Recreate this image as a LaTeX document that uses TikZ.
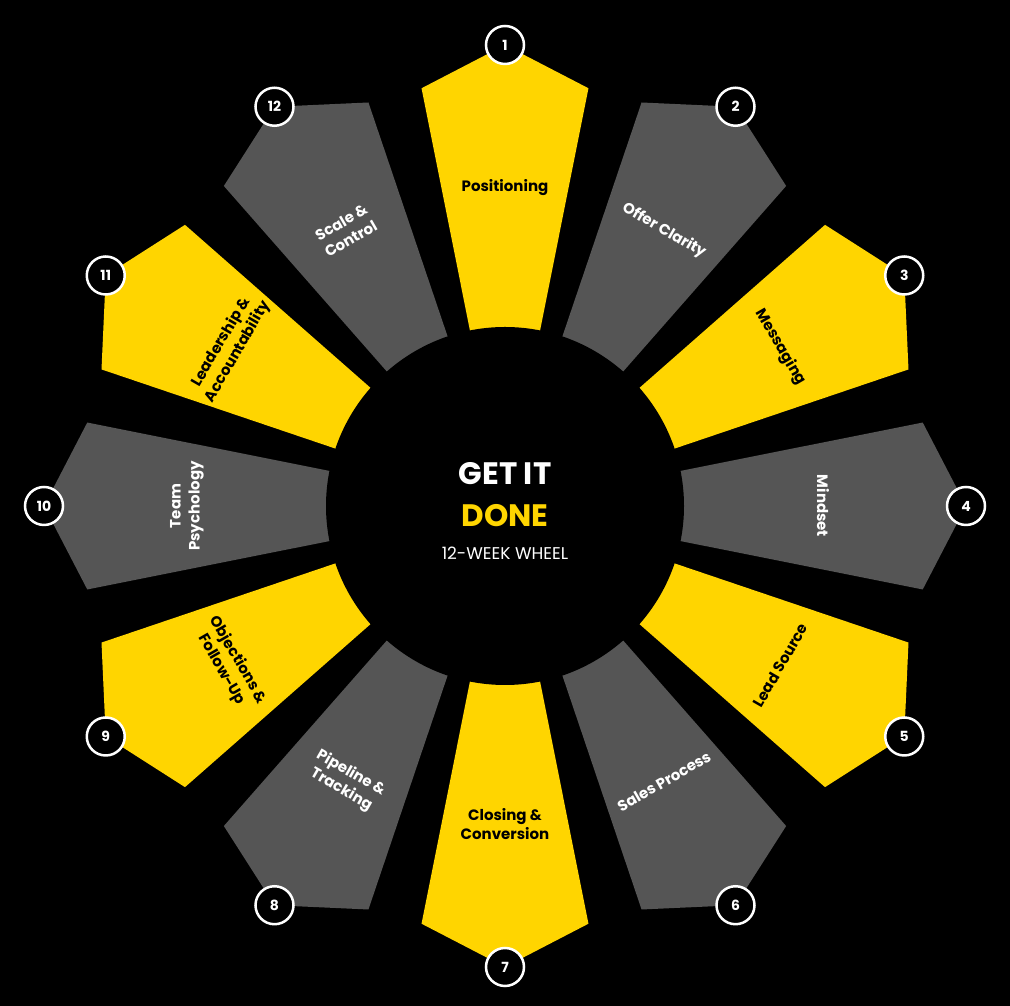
\documentclass[tikz,border=0pt]{standalone}
\usepackage{fontspec}
\setmainfont{Poppins}
\usetikzlibrary{positioning,calc}
\definecolor{wheelyellow}{HTML}{FFD500}
\definecolor{wheelgray}{HTML}{555555}
\begin{document}
\begin{tikzpicture}
  [
    x=1pt, y=1pt,
    Label/.style={text=black, font=\bfseries\fontsize{15}{19}\selectfont, align=center, inner sep=1pt},
    LabelW/.style={Label, text=white},
    Badge/.style={circle, draw=white, fill=black, line width=2.5pt, minimum size=38pt, inner sep=0pt, text=white, font=\bfseries\fontsize{14}{14}\selectfont}
  ]
  % Background
  \fill[black] (0,0) rectangle (1010,1006);
  \coordinate (c) at (505,500);
  % Segments
  \foreach \n/\col in {1/wheelyellow,2/wheelgray,3/wheelyellow,4/wheelgray,5/wheelyellow,6/wheelgray,7/wheelyellow,8/wheelgray,9/wheelyellow,10/wheelgray,11/wheelyellow,12/wheelgray}{
    \pgfmathsetmacro{\a}{90-30*(\n-1)}
    \fill[\col] (c) -- ++(\a-11.3:426) -- ($(c)+(\a:461)$) -- ($(c)+(\a+11.3:426)$) -- cycle;
  }
  % Hub
  \node[circle, fill=black, minimum size=358pt, inner sep=0pt] (hub) at (c) {};
  \node[text=white, font=\bfseries\fontsize{31}{31}\selectfont] (get) at (505,532) {GET IT};
  \node[text=wheelyellow, font=\bfseries\fontsize{31}{31}\selectfont] (done) at (505,490) {DONE};
  \node[text=white, font=\fontsize{17}{17}\selectfont] (sub) at (505,453) {12-WEEK WHEEL};
  % Labels
  \foreach \n/\rot/\sty/\txt in {1/0/Label/Positioning, 2/-30/LabelW/Offer Clarity, 3/-60/Label/Messaging, 4/-90/LabelW/Mindset, 5/60/Label/Lead Source, 6/30/LabelW/Sales Process, 7/0/Label/{Closing \&\\Conversion}, 8/-30/LabelW/{Pipeline \&\\Tracking}, 9/-60/Label/{Objections \&\\Follow-Up}, 10/90/LabelW/{Team\\Psychology}, 11/60/Label/{Leadership \&\\Accountability}, 12/30/LabelW/{Scale \&\\Control}}{
    \pgfmathsetmacro{\a}{90-30*(\n-1)}
    \node[\sty, rotate=\rot] (lab\n) at ($(c)+(\a:318)$) {\txt};
  }
  % Badges
  \foreach \n in {1,...,12}{
    \pgfmathsetmacro{\a}{90-30*(\n-1)}
    \node[Badge] (badge\n) at ($(c)+(\a:461)$) {\n};
  }
  \useasboundingbox (0,0) rectangle (1010,1006);
\end{tikzpicture}
\end{document}
